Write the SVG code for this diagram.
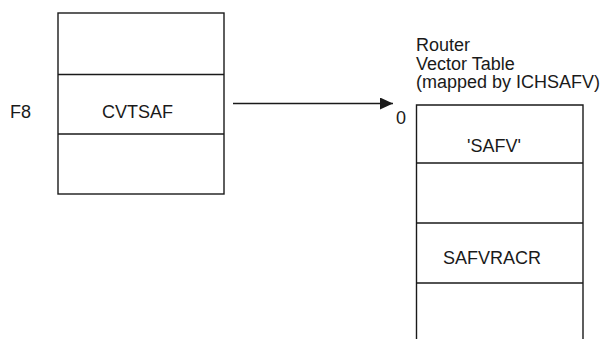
<svg xmlns="http://www.w3.org/2000/svg" width="605" height="339" viewBox="0 0 605 339">
<defs>
<style>
.t{font-family:"Liberation Sans",Arial,sans-serif;font-size:18px;fill:#1a1a1a}
.s{fill:none;stroke:#1a1a1a;stroke-width:1.4}
</style>
<marker id="ah" markerWidth="13" markerHeight="12" refX="13" refY="6" orient="auto" markerUnits="userSpaceOnUse">
<polygon points="0,0 13,6 0,12" fill="#1a1a1a"/>
</marker>
</defs>
<rect width="605" height="339" fill="#ffffff"/>
<g id="cvt">
<rect class="s" x="58" y="13" width="166" height="181"/>
<line class="s" x1="58" y1="74.5" x2="224" y2="74.5"/>
<line class="s" x1="58" y1="134" x2="224" y2="134"/>
<text class="t" x="10" y="118">F8</text>
<text class="t" x="102" y="118">CVTSAF</text>
</g>
<g id="safv">
<text class="t" x="416" y="51">Router</text>
<text class="t" x="416" y="69.5">Vector Table</text>
<text class="t" x="416" y="88">(mapped by ICHSAFV)</text>
<text class="t" x="396" y="124">0</text>
<path class="s" d="M416.5,339 V105 H583 V339"/>
<line class="s" x1="416.5" y1="163" x2="583" y2="163"/>
<line class="s" x1="416.5" y1="223" x2="583" y2="223"/>
<line class="s" x1="416.5" y1="283" x2="583" y2="283"/>
<text class="t" x="467" y="151.5">'SAFV'</text>
<text class="t" x="443" y="263.5">SAFVRACR</text>
</g>
<g id="connectors">
<line class="s" x1="233" y1="103.5" x2="393" y2="103.5" marker-end="url(#ah)"/>
</g>
</svg>
